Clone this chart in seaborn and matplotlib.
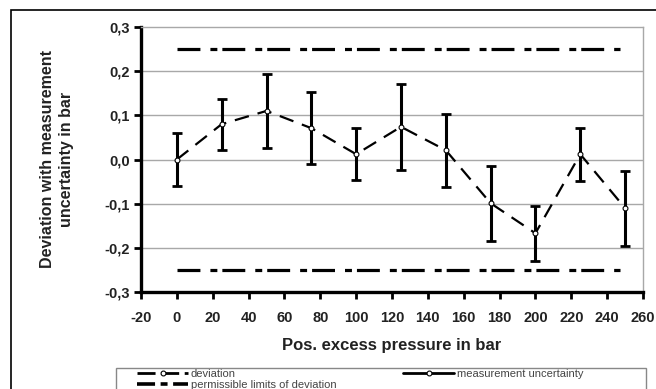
import matplotlib
matplotlib.use("Agg")
import matplotlib.pyplot as plt
import seaborn as sns
import pandas as pd
from matplotlib.patches import Rectangle
from matplotlib.lines import Line2D

pressure = [0, 25, 50, 75, 100, 125, 150, 175, 200, 225, 250]
deviation = [0.0, 0.080, 0.110, 0.071, 0.012, 0.074, 0.021, -0.099, -0.167, 0.012, -0.110]
uncertainty = [0.059, 0.058, 0.083, 0.082, 0.059, 0.098, 0.083, 0.085, 0.062, 0.060, 0.085]
limit_x = [0, 247]
limit_upper = [0.25, 0.25]
limit_lower = [-0.25, -0.25]
x_ticks = list(range(-20, 261, 20))
y_ticks = [-0.3, -0.2, -0.1, 0.0, 0.1, 0.2, 0.3]
y_tick_labels = ["-0,3", "-0,2", "-0,1", "0,0", "0,1", "0,2", "0,3"]

sns.set_style("white")
plt.rcParams['font.family'] = ['Liberation Sans', 'DejaVu Sans']
plt.rcParams['lines.scale_dashes'] = False

fig = plt.figure(figsize=(6.56, 3.89), dpi=100)
ax = fig.add_axes([141/656, 1-292/389, (643-141)/656, (292-27)/389])

df = pd.DataFrame({"p": pressure, "d": deviation, "u": uncertainty})

# grid lines
for yv in y_ticks[1:-1]:
    ax.axhline(yv, color="#a8a8a8", lw=1.0, zorder=0)

# limit lines
limit_ls = (0, (16.5, 7.2, 5.0, 3.6))
sns.lineplot(x=limit_x, y=limit_upper, ax=ax, color="black", lw=2.3, linestyle=limit_ls, zorder=2)
sns.lineplot(x=limit_x, y=limit_lower, ax=ax, color="black", lw=2.3, linestyle=limit_ls, zorder=2)

# error bars
ax.errorbar(df["p"], df["d"], yerr=df["u"], fmt="none", ecolor="black",
            elinewidth=2.2, capsize=3.8, capthick=2.0, zorder=3)

# deviation line
sns.lineplot(data=df, x="p", y="d", ax=ax, color="black", lw=1.6,
             linestyle=(0, (10.5, 6.5)), marker="o", markersize=3.5,
             markerfacecolor="white", markeredgecolor="black", markeredgewidth=0.8, zorder=4)

ax.set_xlim(-20, 260)
ax.set_ylim(-0.3, 0.3)
ax.set_xticks(x_ticks)
ax.set_xticklabels([str(t) for t in x_ticks], fontweight="bold", fontsize=10.5, color="#222222")
ax.set_yticks(y_ticks)
ax.set_yticklabels(y_tick_labels, fontweight="bold", fontsize=10.5, color="#222222")
ax.tick_params(axis="both", direction="out", length=5, width=2, color="black",
               bottom=True, left=True)
ax.tick_params(axis="x", pad=9)
ax.tick_params(axis="y", pad=3)

for s in ["left", "bottom"]:
    ax.spines[s].set_color("black")
    ax.spines[s].set_linewidth(2.4)
for s in ["top", "right"]:
    ax.spines[s].set_color("#a8a8a8")
    ax.spines[s].set_linewidth(1.0)

ax.set_xlabel("Pos. excess pressure in bar", fontweight="bold", fontsize=12, labelpad=9,
              color="#222222")
ax.set_ylabel("Deviation with measurement\nuncertainty in bar", fontweight="bold",
              fontsize=11.5, labelpad=22, linespacing=1.35, color="#222222")

# outer frame
fig.patches.append(Rectangle((11/656, -0.1), 1.0, 1 - 10/389 + 0.1, transform=fig.transFigure,
                             fill=False, edgecolor="black", lw=1.2))

# legend frame
fig.patches.append(Rectangle((116/656, -0.1), (646-116)/656, 0.1 + 1 - 368/389,
                             transform=fig.transFigure, fill=False, edgecolor="#888888", lw=1.0))

handles = [
    Line2D([0], [0], color="black", lw=2.0, linestyle=(0, (13, 4)), marker="o",
           markersize=3.5, markerfacecolor="white", markeredgewidth=0.8),
    Line2D([0], [0], color="black", lw=2.6, linestyle=(0, (13, 4, 5, 4))),
    Line2D([0], [0], color="black", lw=2.0, marker="o", markersize=3.5,
           markerfacecolor="white", markeredgewidth=0.8),
]
labels = ["deviation", "permissible limits of deviation", "measurement uncertainty"]
leg = fig.legend(handles, labels, ncol=2, loc="upper left",
                 bbox_to_anchor=(137/656, 1 - 369/389),
                 fontsize=8, frameon=False, handlelength=4.6, handletextpad=0.25,
                 borderpad=0.0, labelspacing=0.05, borderaxespad=0, columnspacing=6.0)
for t in leg.get_texts():
    t.set_color("#444444")

fig.savefig("out.png", dpi=100)
